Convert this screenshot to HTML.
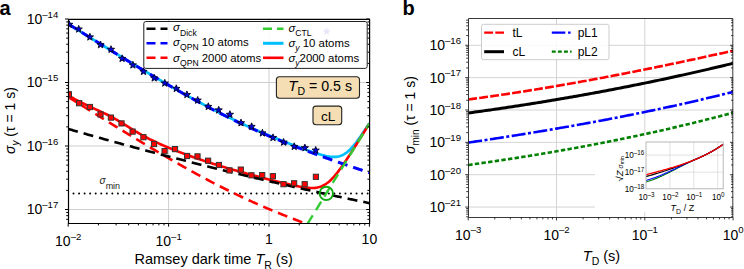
<!DOCTYPE html><html><head><meta charset="utf-8"><style>html,body{margin:0;padding:0;width:744px;height:269px;overflow:hidden;background:#fff}</style></head><body><svg width="744" height="269" viewBox="0 0 744 269" style="position:absolute;left:0;top:0">
<rect width="744" height="269" fill="#fff"/>
<text x="-0.5" y="14.5" style="font-family:'Liberation Sans', sans-serif;font-size:20px;font-weight:bold">a</text>
<line x1="168.60" y1="19.0" x2="168.60" y2="223.4" stroke="#cfcfcf" stroke-width="1"/>
<line x1="269.00" y1="19.0" x2="269.00" y2="223.4" stroke="#cfcfcf" stroke-width="1"/>
<line x1="68.2" y1="82.50" x2="369.40000000000003" y2="82.50" stroke="#cfcfcf" stroke-width="1"/>
<line x1="68.2" y1="146.00" x2="369.40000000000003" y2="146.00" stroke="#cfcfcf" stroke-width="1"/>
<line x1="68.2" y1="209.50" x2="369.40000000000003" y2="209.50" stroke="#cfcfcf" stroke-width="1"/>
<defs><clipPath id="ca"><rect x="68.2" y="19.0" width="301.20000000000005" height="204.4"/></clipPath></defs>
<g clip-path="url(#ca)">
<line x1="73.5" y1="193.5" x2="369.40000000000003" y2="193.5" stroke="#000" stroke-width="2" stroke-dasharray="0,5.55" stroke-linecap="round"/>
<path d="M68.20,23.89 L69.20,24.52 L70.21,25.14 L71.21,25.77 L72.22,26.40 L73.22,27.03 L74.22,27.66 L75.23,28.28 L76.23,28.91 L77.24,29.54 L78.24,30.17 L79.24,30.79 L80.25,31.42 L81.25,32.05 L82.26,32.67 L83.26,33.30 L84.26,33.92 L85.27,34.55 L86.27,35.18 L87.28,35.80 L88.28,36.43 L89.28,37.05 L90.29,37.68 L91.29,38.30 L92.30,38.92 L93.30,39.55 L94.30,40.17 L95.31,40.80 L96.31,41.42 L97.32,42.04 L98.32,42.66 L99.32,43.29 L100.33,43.91 L101.33,44.53 L102.34,45.15 L103.34,45.77 L104.34,46.39 L105.35,47.01 L106.35,47.63 L107.36,48.25 L108.36,48.87 L109.36,49.49 L110.37,50.11 L111.37,50.73 L112.38,51.35 L113.38,51.97 L114.38,52.58 L115.39,53.20 L116.39,53.82 L117.40,54.43 L118.40,55.05 L119.40,55.66 L120.41,56.28 L121.41,56.89 L122.42,57.51 L123.42,58.12 L124.42,58.73 L125.43,59.35 L126.43,59.96 L127.44,60.57 L128.44,61.18 L129.44,61.79 L130.45,62.40 L131.45,63.01 L132.46,63.62 L133.46,64.23 L134.46,64.84 L135.47,65.44 L136.47,66.05 L137.48,66.66 L138.48,67.26 L139.48,67.87 L140.49,68.47 L141.49,69.08 L142.50,69.68 L143.50,70.28 L144.50,70.88 L145.51,71.48 L146.51,72.08 L147.52,72.68 L148.52,73.28 L149.52,73.88 L150.53,74.48 L151.53,75.07 L152.54,75.67 L153.54,76.26 L154.54,76.86 L155.55,77.45 L156.55,78.04 L157.56,78.63 L158.56,79.22 L159.56,79.81 L160.57,80.40 L161.57,80.99 L162.58,81.58 L163.58,82.16 L164.58,82.75 L165.59,83.33 L166.59,83.91 L167.60,84.49 L168.60,85.08 L169.60,85.66 L170.61,86.23 L171.61,86.81 L172.62,87.39 L173.62,87.96 L174.62,88.54 L175.63,89.11 L176.63,89.68 L177.64,90.25 L178.64,90.82 L179.64,91.39 L180.65,91.96 L181.65,92.52 L182.66,93.09 L183.66,93.65 L184.66,94.21 L185.67,94.77 L186.67,95.33 L187.68,95.89 L188.68,96.45 L189.68,97.00 L190.69,97.56 L191.69,98.11 L192.70,98.66 L193.70,99.21 L194.70,99.76 L195.71,100.30 L196.71,100.85 L197.72,101.39 L198.72,101.94 L199.72,102.48 L200.73,103.01 L201.73,103.55 L202.74,104.09 L203.74,104.62 L204.74,105.15 L205.75,105.69 L206.75,106.21 L207.76,106.74 L208.76,107.27 L209.76,107.79 L210.77,108.32 L211.77,108.84 L212.78,109.36 L213.78,109.87 L214.78,110.39 L215.79,110.90 L216.79,111.41 L217.80,111.92 L218.80,112.43 L219.80,112.94 L220.81,113.44 L221.81,113.95 L222.82,114.45 L223.82,114.95 L224.82,115.45 L225.83,115.94 L226.83,116.44 L227.84,116.93 L228.84,117.42 L229.84,117.91 L230.85,118.39 L231.85,118.88 L232.86,119.36 L233.86,119.84 L234.86,120.32 L235.87,120.80 L236.87,121.27 L237.88,121.75 L238.88,122.22 L239.88,122.69 L240.89,123.16 L241.89,123.62 L242.90,124.09 L243.90,124.55 L244.90,125.01 L245.91,125.47 L246.91,125.92 L247.92,126.38 L248.92,126.83 L249.92,127.28 L250.93,127.73 L251.93,128.18 L252.94,128.62 L253.94,129.07 L254.94,129.51 L255.95,129.95 L256.95,130.39 L257.96,130.82 L258.96,131.26 L259.96,131.69 L260.97,132.12 L261.97,132.55 L262.98,132.98 L263.98,133.40 L264.98,133.83 L265.99,134.25 L266.99,134.67 L268.00,135.09 L269.00,135.51 L270.00,135.92 L271.01,136.34 L272.01,136.75 L273.02,137.16 L274.02,137.57 L275.02,137.98 L276.03,138.38 L277.03,138.79 L278.04,139.19 L279.04,139.59 L280.04,139.99 L281.05,140.39 L282.05,140.78 L283.06,141.18 L284.06,141.57 L285.06,141.96 L286.07,142.35 L287.07,142.74 L288.08,143.13 L289.08,143.52 L290.08,143.90 L291.09,144.28 L292.09,144.67 L293.10,145.05 L294.10,145.42 L295.10,145.80 L296.11,146.18 L297.11,146.55 L298.12,146.92 L299.12,147.29 L300.12,147.66 L301.13,148.03 L302.13,148.40 L303.14,148.76 L304.14,149.12 L305.14,149.48 L306.15,149.84 L307.15,150.20 L308.16,150.55 L309.16,150.90 L310.16,151.25 L311.17,151.59 L312.17,151.94 L313.18,152.27 L314.18,152.61 L315.18,152.94 L316.19,153.26 L317.19,153.58 L318.20,153.89 L319.20,154.20 L320.20,154.50 L321.21,154.78 L322.21,155.06 L323.22,155.33 L324.22,155.58 L325.22,155.82 L326.23,156.05 L327.23,156.25 L328.24,156.44 L329.24,156.60 L330.24,156.74 L331.25,156.85 L332.25,156.92 L333.26,156.97 L334.26,156.97 L335.26,156.93 L336.27,156.84 L337.27,156.71 L338.28,156.52 L339.28,156.27 L340.28,155.97 L341.29,155.60 L342.29,155.17 L343.30,154.66 L344.30,154.09 L345.30,153.45 L346.31,152.74 L347.31,151.96 L348.32,151.11 L349.32,150.20 L350.32,149.22 L351.33,148.19 L352.33,147.09 L353.34,145.95 L354.34,144.75 L355.34,143.51 L356.35,142.23 L357.35,140.90 L358.36,139.55 L359.36,138.16 L360.36,136.75 L361.37,135.30 L362.37,133.84 L363.38,132.36 L364.38,130.86 L365.38,129.34 L366.39,127.81 L367.39,126.27 L368.40,124.72 L369.40,123.16" fill="none" stroke="#00bfff" stroke-width="2.7"/>
<path d="M68.20,95.46 L69.20,96.03 L70.21,96.59 L71.21,97.15 L72.22,97.71 L73.22,98.26 L74.22,98.81 L75.23,99.35 L76.23,99.89 L77.24,100.42 L78.24,100.95 L79.24,101.47 L80.25,101.99 L81.25,102.50 L82.26,103.00 L83.26,103.50 L84.26,103.99 L85.27,104.48 L86.27,104.96 L87.28,105.44 L88.28,105.91 L89.28,106.38 L90.29,106.85 L91.29,107.31 L92.30,107.77 L93.30,108.22 L94.30,108.68 L95.31,109.13 L96.31,109.58 L97.32,110.04 L98.32,110.49 L99.32,110.95 L100.33,111.41 L101.33,111.88 L102.34,112.34 L103.34,112.82 L104.34,113.30 L105.35,113.78 L106.35,114.27 L107.36,114.77 L108.36,115.28 L109.36,115.80 L110.37,116.32 L111.37,116.85 L112.38,117.39 L113.38,117.94 L114.38,118.50 L115.39,119.07 L116.39,119.64 L117.40,120.22 L118.40,120.81 L119.40,121.41 L120.41,122.01 L121.41,122.62 L122.42,123.23 L123.42,123.84 L124.42,124.46 L125.43,125.08 L126.43,125.71 L127.44,126.33 L128.44,126.95 L129.44,127.58 L130.45,128.20 L131.45,128.82 L132.46,129.43 L133.46,130.05 L134.46,130.66 L135.47,131.26 L136.47,131.86 L137.48,132.45 L138.48,133.04 L139.48,133.62 L140.49,134.19 L141.49,134.76 L142.50,135.32 L143.50,135.87 L144.50,136.42 L145.51,136.96 L146.51,137.49 L147.52,138.01 L148.52,138.53 L149.52,139.04 L150.53,139.55 L151.53,140.04 L152.54,140.54 L153.54,141.02 L154.54,141.50 L155.55,141.98 L156.55,142.44 L157.56,142.91 L158.56,143.37 L159.56,143.82 L160.57,144.27 L161.57,144.71 L162.58,145.15 L163.58,145.59 L164.58,146.02 L165.59,146.45 L166.59,146.88 L167.60,147.30 L168.60,147.72 L169.60,148.13 L170.61,148.54 L171.61,148.95 L172.62,149.36 L173.62,149.76 L174.62,150.16 L175.63,150.56 L176.63,150.95 L177.64,151.35 L178.64,151.73 L179.64,152.12 L180.65,152.51 L181.65,152.89 L182.66,153.27 L183.66,153.64 L184.66,154.02 L185.67,154.39 L186.67,154.76 L187.68,155.13 L188.68,155.50 L189.68,155.86 L190.69,156.22 L191.69,156.58 L192.70,156.94 L193.70,157.29 L194.70,157.64 L195.71,157.99 L196.71,158.34 L197.72,158.69 L198.72,159.03 L199.72,159.38 L200.73,159.72 L201.73,160.05 L202.74,160.39 L203.74,160.73 L204.74,161.06 L205.75,161.39 L206.75,161.72 L207.76,162.05 L208.76,162.37 L209.76,162.70 L210.77,163.02 L211.77,163.34 L212.78,163.66 L213.78,163.98 L214.78,164.29 L215.79,164.61 L216.79,164.92 L217.80,165.23 L218.80,165.54 L219.80,165.85 L220.81,166.15 L221.81,166.46 L222.82,166.76 L223.82,167.06 L224.82,167.36 L225.83,167.66 L226.83,167.96 L227.84,168.26 L228.84,168.55 L229.84,168.84 L230.85,169.14 L231.85,169.43 L232.86,169.72 L233.86,170.01 L234.86,170.29 L235.87,170.58 L236.87,170.87 L237.88,171.15 L238.88,171.43 L239.88,171.71 L240.89,171.99 L241.89,172.27 L242.90,172.55 L243.90,172.83 L244.90,173.11 L245.91,173.38 L246.91,173.66 L247.92,173.93 L248.92,174.20 L249.92,174.47 L250.93,174.74 L251.93,175.01 L252.94,175.28 L253.94,175.55 L254.94,175.82 L255.95,176.08 L256.95,176.35 L257.96,176.61 L258.96,176.88 L259.96,177.14 L260.97,177.40 L261.97,177.66 L262.98,177.92 L263.98,178.18 L264.98,178.44 L265.99,178.70 L266.99,178.95 L268.00,179.21 L269.00,179.46 L270.00,179.72 L271.01,179.97 L272.01,180.22 L273.02,180.48 L274.02,180.73 L275.02,180.98 L276.03,181.23 L277.03,181.47 L278.04,181.72 L279.04,181.97 L280.04,182.21 L281.05,182.46 L282.05,182.70 L283.06,182.94 L284.06,183.18 L285.06,183.42 L286.07,183.66 L287.07,183.89 L288.08,184.13 L289.08,184.36 L290.08,184.59 L291.09,184.82 L292.09,185.04 L293.10,185.26 L294.10,185.48 L295.10,185.70 L296.11,185.91 L297.11,186.11 L298.12,186.31 L299.12,186.51 L300.12,186.70 L301.13,186.88 L302.13,187.05 L303.14,187.21 L304.14,187.36 L305.14,187.50 L306.15,187.63 L307.15,187.74 L308.16,187.84 L309.16,187.91 L310.16,187.97 L311.17,188.00 L312.17,188.01 L313.18,187.99 L314.18,187.93 L315.18,187.84 L316.19,187.72 L317.19,187.55 L318.20,187.34 L319.20,187.08 L320.20,186.78 L321.21,186.42 L322.21,186.00 L323.22,185.53 L324.22,184.99 L325.22,184.40 L326.23,183.74 L327.23,183.03 L328.24,182.24 L329.24,181.40 L330.24,180.50 L331.25,179.54 L332.25,178.52 L333.26,177.45 L334.26,176.33 L335.26,175.16 L336.27,173.95 L337.27,172.70 L338.28,171.40 L339.28,170.07 L340.28,168.71 L341.29,167.33 L342.29,165.91 L343.30,164.47 L344.30,163.01 L345.30,161.53 L346.31,160.04 L347.31,158.52 L348.32,157.00 L349.32,155.46 L350.32,153.91 L351.33,152.36 L352.33,150.79 L353.34,149.22 L354.34,147.64 L355.34,146.05 L356.35,144.46 L357.35,142.87 L358.36,141.27 L359.36,139.67 L360.36,138.07 L361.37,136.46 L362.37,134.85 L363.38,133.24 L364.38,131.62 L365.38,130.01 L366.39,128.39 L367.39,126.78 L368.40,125.16 L369.40,123.54" fill="none" stroke="#ff0000" stroke-width="2.6"/>
<path d="M68.20,23.89 L69.20,24.52 L70.21,25.15 L71.21,25.78 L72.22,26.41 L73.22,27.04 L74.22,27.66 L75.23,28.29 L76.23,28.92 L77.24,29.55 L78.24,30.17 L79.24,30.80 L80.25,31.43 L81.25,32.06 L82.26,32.68 L83.26,33.31 L84.26,33.93 L85.27,34.56 L86.27,35.19 L87.28,35.81 L88.28,36.44 L89.28,37.06 L90.29,37.69 L91.29,38.31 L92.30,38.94 L93.30,39.56 L94.30,40.18 L95.31,40.81 L96.31,41.43 L97.32,42.06 L98.32,42.68 L99.32,43.30 L100.33,43.92 L101.33,44.55 L102.34,45.17 L103.34,45.79 L104.34,46.41 L105.35,47.03 L106.35,47.65 L107.36,48.27 L108.36,48.89 L109.36,49.51 L110.37,50.13 L111.37,50.75 L112.38,51.37 L113.38,51.99 L114.38,52.60 L115.39,53.22 L116.39,53.84 L117.40,54.46 L118.40,55.07 L119.40,55.69 L120.41,56.30 L121.41,56.92 L122.42,57.53 L123.42,58.15 L124.42,58.76 L125.43,59.37 L126.43,59.99 L127.44,60.60 L128.44,61.21 L129.44,61.82 L130.45,62.43 L131.45,63.04 L132.46,63.65 L133.46,64.26 L134.46,64.87 L135.47,65.48 L136.47,66.09 L137.48,66.69 L138.48,67.30 L139.48,67.91 L140.49,68.51 L141.49,69.12 L142.50,69.72 L143.50,70.32 L144.50,70.93 L145.51,71.53 L146.51,72.13 L147.52,72.73 L148.52,73.33 L149.52,73.93 L150.53,74.53 L151.53,75.12 L152.54,75.72 L153.54,76.32 L154.54,76.91 L155.55,77.51 L156.55,78.10 L157.56,78.69 L158.56,79.28 L159.56,79.88 L160.57,80.47 L161.57,81.06 L162.58,81.64 L163.58,82.23 L164.58,82.82 L165.59,83.40 L166.59,83.99 L167.60,84.57 L168.60,85.15 L169.60,85.74 L170.61,86.32 L171.61,86.90 L172.62,87.47 L173.62,88.05 L174.62,88.63 L175.63,89.20 L176.63,89.78 L177.64,90.35 L178.64,90.92 L179.64,91.49 L180.65,92.06 L181.65,92.63 L182.66,93.20 L183.66,93.76 L184.66,94.33 L185.67,94.89 L186.67,95.45 L187.68,96.01 L188.68,96.57 L189.68,97.13 L190.69,97.69 L191.69,98.24 L192.70,98.79 L193.70,99.35 L194.70,99.90 L195.71,100.45 L196.71,101.00 L197.72,101.54 L198.72,102.09 L199.72,102.63 L200.73,103.17 L201.73,103.71 L202.74,104.25 L203.74,104.79 L204.74,105.33 L205.75,105.86 L206.75,106.39 L207.76,106.93 L208.76,107.46 L209.76,107.98 L210.77,108.51 L211.77,109.03 L212.78,109.56 L213.78,110.08 L214.78,110.60 L215.79,111.12 L216.79,111.63 L217.80,112.15 L218.80,112.66 L219.80,113.17 L220.81,113.68 L221.81,114.19 L222.82,114.69 L223.82,115.20 L224.82,115.70 L225.83,116.20 L226.83,116.70 L227.84,117.20 L228.84,117.69 L229.84,118.19 L230.85,118.68 L231.85,119.17 L232.86,119.65 L233.86,120.14 L234.86,120.62 L235.87,121.11 L236.87,121.59 L237.88,122.07 L238.88,122.54 L239.88,123.02 L240.89,123.49 L241.89,123.96 L242.90,124.43 L243.90,124.90 L244.90,125.37 L245.91,125.83 L246.91,126.29 L247.92,126.75 L248.92,127.21 L249.92,127.67 L250.93,128.13 L251.93,128.58 L252.94,129.03 L253.94,129.48 L254.94,129.93 L255.95,130.37 L256.95,130.82 L257.96,131.26 L258.96,131.70 L259.96,132.14 L260.97,132.58 L261.97,133.02 L262.98,133.45 L263.98,133.88 L264.98,134.31 L265.99,134.74 L266.99,135.17 L268.00,135.60 L269.00,136.02 L270.00,136.44 L271.01,136.86 L272.01,137.28 L273.02,137.70 L274.02,138.12 L275.02,138.53 L276.03,138.94 L277.03,139.36 L278.04,139.77 L279.04,140.17 L280.04,140.58 L281.05,140.99 L282.05,141.39 L283.06,141.79 L284.06,142.19 L285.06,142.59 L286.07,142.99 L287.07,143.39 L288.08,143.78 L289.08,144.18 L290.08,144.57 L291.09,144.96 L292.09,145.35 L293.10,145.74 L294.10,146.13 L295.10,146.52 L296.11,146.90 L297.11,147.29 L298.12,147.67 L299.12,148.05 L300.12,148.43 L301.13,148.81 L302.13,149.19 L303.14,149.57 L304.14,149.94 L305.14,150.32 L306.15,150.69 L307.15,151.06 L308.16,151.44 L309.16,151.81 L310.16,152.18 L311.17,152.55 L312.17,152.91 L313.18,153.28 L314.18,153.65 L315.18,154.01 L316.19,154.37 L317.19,154.74 L318.20,155.10 L319.20,155.46 L320.20,155.82 L321.21,156.18 L322.21,156.54 L323.22,156.90 L324.22,157.25 L325.22,157.61 L326.23,157.97 L327.23,158.32 L328.24,158.68 L329.24,159.03 L330.24,159.38 L331.25,159.73 L332.25,160.08 L333.26,160.43 L334.26,160.78 L335.26,161.13 L336.27,161.48 L337.27,161.83 L338.28,162.18 L339.28,162.52 L340.28,162.87 L341.29,163.22 L342.29,163.56 L343.30,163.90 L344.30,164.25 L345.30,164.59 L346.31,164.93 L347.31,165.28 L348.32,165.62 L349.32,165.96 L350.32,166.30 L351.33,166.64 L352.33,166.98 L353.34,167.32 L354.34,167.66 L355.34,167.99 L356.35,168.33 L357.35,168.67 L358.36,169.01 L359.36,169.34 L360.36,169.68 L361.37,170.02 L362.37,170.35 L363.38,170.69 L364.38,171.02 L365.38,171.35 L366.39,171.69 L367.39,172.02 L368.40,172.35 L369.40,172.69" fill="none" stroke="#0000ff" stroke-width="3" stroke-dasharray="10,6"/>
<path d="M68.20,96.95 L69.20,97.58 L70.21,98.21 L71.21,98.84 L72.22,99.47 L73.22,100.09 L74.22,100.72 L75.23,101.35 L76.23,101.98 L77.24,102.61 L78.24,103.23 L79.24,103.86 L80.25,104.49 L81.25,105.11 L82.26,105.74 L83.26,106.37 L84.26,106.99 L85.27,107.62 L86.27,108.24 L87.28,108.87 L88.28,109.50 L89.28,110.12 L90.29,110.75 L91.29,111.37 L92.30,111.99 L93.30,112.62 L94.30,113.24 L95.31,113.87 L96.31,114.49 L97.32,115.11 L98.32,115.74 L99.32,116.36 L100.33,116.98 L101.33,117.60 L102.34,118.23 L103.34,118.85 L104.34,119.47 L105.35,120.09 L106.35,120.71 L107.36,121.33 L108.36,121.95 L109.36,122.57 L110.37,123.19 L111.37,123.81 L112.38,124.43 L113.38,125.04 L114.38,125.66 L115.39,126.28 L116.39,126.90 L117.40,127.51 L118.40,128.13 L119.40,128.75 L120.41,129.36 L121.41,129.98 L122.42,130.59 L123.42,131.21 L124.42,131.82 L125.43,132.43 L126.43,133.04 L127.44,133.66 L128.44,134.27 L129.44,134.88 L130.45,135.49 L131.45,136.10 L132.46,136.71 L133.46,137.32 L134.46,137.93 L135.47,138.54 L136.47,139.14 L137.48,139.75 L138.48,140.36 L139.48,140.96 L140.49,141.57 L141.49,142.17 L142.50,142.78 L143.50,143.38 L144.50,143.98 L145.51,144.59 L146.51,145.19 L147.52,145.79 L148.52,146.39 L149.52,146.99 L150.53,147.58 L151.53,148.18 L152.54,148.78 L153.54,149.37 L154.54,149.97 L155.55,150.56 L156.55,151.16 L157.56,151.75 L158.56,152.34 L159.56,152.93 L160.57,153.52 L161.57,154.11 L162.58,154.70 L163.58,155.29 L164.58,155.88 L165.59,156.46 L166.59,157.05 L167.60,157.63 L168.60,158.21 L169.60,158.79 L170.61,159.37 L171.61,159.95 L172.62,160.53 L173.62,161.11 L174.62,161.69 L175.63,162.26 L176.63,162.83 L177.64,163.41 L178.64,163.98 L179.64,164.55 L180.65,165.12 L181.65,165.69 L182.66,166.25 L183.66,166.82 L184.66,167.38 L185.67,167.95 L186.67,168.51 L187.68,169.07 L188.68,169.63 L189.68,170.19 L190.69,170.74 L191.69,171.30 L192.70,171.85 L193.70,172.40 L194.70,172.96 L195.71,173.51 L196.71,174.05 L197.72,174.60 L198.72,175.15 L199.72,175.69 L200.73,176.23 L201.73,176.77 L202.74,177.31 L203.74,177.85 L204.74,178.38 L205.75,178.92 L206.75,179.45 L207.76,179.98 L208.76,180.51 L209.76,181.04 L210.77,181.57 L211.77,182.09 L212.78,182.61 L213.78,183.14 L214.78,183.66 L215.79,184.17 L216.79,184.69 L217.80,185.20 L218.80,185.72 L219.80,186.23 L220.81,186.74 L221.81,187.25 L222.82,187.75 L223.82,188.26 L224.82,188.76 L225.83,189.26 L226.83,189.76 L227.84,190.25 L228.84,190.75 L229.84,191.24 L230.85,191.73 L231.85,192.22 L232.86,192.71 L233.86,193.20 L234.86,193.68 L235.87,194.17 L236.87,194.65 L237.88,195.12 L238.88,195.60 L239.88,196.08 L240.89,196.55 L241.89,197.02 L242.90,197.49 L243.90,197.96 L244.90,198.42 L245.91,198.89 L246.91,199.35 L247.92,199.81 L248.92,200.27 L249.92,200.73 L250.93,201.18 L251.93,201.64 L252.94,202.09 L253.94,202.54 L254.94,202.99 L255.95,203.43 L256.95,203.88 L257.96,204.32 L258.96,204.76 L259.96,205.20 L260.97,205.64 L261.97,206.07 L262.98,206.51 L263.98,206.94 L264.98,207.37 L265.99,207.80 L266.99,208.23 L268.00,208.65 L269.00,209.08 L270.00,209.50 L271.01,209.92 L272.01,210.34 L273.02,210.76 L274.02,211.17 L275.02,211.59 L276.03,212.00 L277.03,212.41 L278.04,212.82 L279.04,213.23 L280.04,213.64 L281.05,214.04 L282.05,214.45 L283.06,214.85 L284.06,215.25 L285.06,215.65 L286.07,216.05 L287.07,216.45 L288.08,216.84 L289.08,217.24 L290.08,217.63 L291.09,218.02 L292.09,218.41 L293.10,218.80 L294.10,219.19 L295.10,219.58 L296.11,219.96 L297.11,220.34 L298.12,220.73 L299.12,221.11 L300.12,221.49 L301.13,221.87 L302.13,222.25 L303.14,222.62 L304.14,223.00 L305.14,223.38 L306.15,223.75 L307.15,224.12 L308.16,224.49 L309.16,224.86 L310.16,225.23 L311.17,225.60 L312.17,225.97 L313.18,226.34 L314.18,226.70 L315.18,227.07 L316.19,227.43 L317.19,227.80 L318.20,228.16 L319.20,228.52 L320.20,228.88 L321.21,229.24 L322.21,229.60 L323.22,229.96 L324.22,230.31 L325.22,230.67 L326.23,231.02 L327.23,231.38 L328.24,231.73 L329.24,232.09 L330.24,232.44 L331.25,232.79 L332.25,233.14 L333.26,233.49 L334.26,233.84 L335.26,234.19 L336.27,234.54 L337.27,234.89 L338.28,235.23 L339.28,235.58 L340.28,235.93 L341.29,236.27 L342.29,236.62 L343.30,236.96 L344.30,237.31 L345.30,237.65 L346.31,237.99 L347.31,238.33 L348.32,238.68 L349.32,239.02 L350.32,239.36 L351.33,239.70 L352.33,240.04 L353.34,240.38 L354.34,240.71 L355.34,241.05 L356.35,241.39 L357.35,241.73 L358.36,242.06 L359.36,242.40 L360.36,242.74 L361.37,243.07 L362.37,243.41 L363.38,243.74 L364.38,244.08 L365.38,244.41 L366.39,244.75 L367.39,245.08 L368.40,245.41 L369.40,245.75" fill="none" stroke="#ff0000" stroke-width="2.6" stroke-dasharray="10,6"/>
<path d="M68.20,128.95 L69.20,129.24 L70.21,129.52 L71.21,129.81 L72.22,130.10 L73.22,130.39 L74.22,130.68 L75.23,130.96 L76.23,131.25 L77.24,131.54 L78.24,131.82 L79.24,132.11 L80.25,132.39 L81.25,132.68 L82.26,132.97 L83.26,133.25 L84.26,133.54 L85.27,133.82 L86.27,134.10 L87.28,134.39 L88.28,134.67 L89.28,134.95 L90.29,135.24 L91.29,135.52 L92.30,135.80 L93.30,136.09 L94.30,136.37 L95.31,136.65 L96.31,136.93 L97.32,137.21 L98.32,137.49 L99.32,137.77 L100.33,138.05 L101.33,138.33 L102.34,138.61 L103.34,138.89 L104.34,139.17 L105.35,139.45 L106.35,139.73 L107.36,140.01 L108.36,140.28 L109.36,140.56 L110.37,140.84 L111.37,141.12 L112.38,141.39 L113.38,141.67 L114.38,141.95 L115.39,142.22 L116.39,142.50 L117.40,142.77 L118.40,143.05 L119.40,143.32 L120.41,143.60 L121.41,143.87 L122.42,144.15 L123.42,144.42 L124.42,144.69 L125.43,144.97 L126.43,145.24 L127.44,145.51 L128.44,145.79 L129.44,146.06 L130.45,146.33 L131.45,146.60 L132.46,146.87 L133.46,147.14 L134.46,147.41 L135.47,147.69 L136.47,147.96 L137.48,148.23 L138.48,148.50 L139.48,148.76 L140.49,149.03 L141.49,149.30 L142.50,149.57 L143.50,149.84 L144.50,150.11 L145.51,150.38 L146.51,150.64 L147.52,150.91 L148.52,151.18 L149.52,151.44 L150.53,151.71 L151.53,151.98 L152.54,152.24 L153.54,152.51 L154.54,152.77 L155.55,153.04 L156.55,153.30 L157.56,153.57 L158.56,153.83 L159.56,154.09 L160.57,154.36 L161.57,154.62 L162.58,154.88 L163.58,155.15 L164.58,155.41 L165.59,155.67 L166.59,155.93 L167.60,156.19 L168.60,156.46 L169.60,156.72 L170.61,156.98 L171.61,157.24 L172.62,157.50 L173.62,157.76 L174.62,158.02 L175.63,158.28 L176.63,158.54 L177.64,158.80 L178.64,159.05 L179.64,159.31 L180.65,159.57 L181.65,159.83 L182.66,160.09 L183.66,160.34 L184.66,160.60 L185.67,160.86 L186.67,161.11 L187.68,161.37 L188.68,161.62 L189.68,161.88 L190.69,162.13 L191.69,162.39 L192.70,162.64 L193.70,162.90 L194.70,163.15 L195.71,163.41 L196.71,163.66 L197.72,163.91 L198.72,164.17 L199.72,164.42 L200.73,164.67 L201.73,164.92 L202.74,165.18 L203.74,165.43 L204.74,165.68 L205.75,165.93 L206.75,166.18 L207.76,166.43 L208.76,166.68 L209.76,166.93 L210.77,167.18 L211.77,167.43 L212.78,167.68 L213.78,167.93 L214.78,168.18 L215.79,168.42 L216.79,168.67 L217.80,168.92 L218.80,169.17 L219.80,169.41 L220.81,169.66 L221.81,169.91 L222.82,170.15 L223.82,170.40 L224.82,170.65 L225.83,170.89 L226.83,171.14 L227.84,171.38 L228.84,171.63 L229.84,171.87 L230.85,172.11 L231.85,172.36 L232.86,172.60 L233.86,172.84 L234.86,173.09 L235.87,173.33 L236.87,173.57 L237.88,173.81 L238.88,174.06 L239.88,174.30 L240.89,174.54 L241.89,174.78 L242.90,175.02 L243.90,175.26 L244.90,175.50 L245.91,175.74 L246.91,175.98 L247.92,176.22 L248.92,176.46 L249.92,176.70 L250.93,176.94 L251.93,177.18 L252.94,177.41 L253.94,177.65 L254.94,177.89 L255.95,178.13 L256.95,178.36 L257.96,178.60 L258.96,178.84 L259.96,179.07 L260.97,179.31 L261.97,179.54 L262.98,179.78 L263.98,180.01 L264.98,180.25 L265.99,180.48 L266.99,180.72 L268.00,180.95 L269.00,181.18 L270.00,181.42 L271.01,181.65 L272.01,181.88 L273.02,182.11 L274.02,182.35 L275.02,182.58 L276.03,182.81 L277.03,183.04 L278.04,183.27 L279.04,183.50 L280.04,183.73 L281.05,183.96 L282.05,184.19 L283.06,184.42 L284.06,184.65 L285.06,184.88 L286.07,185.11 L287.07,185.34 L288.08,185.57 L289.08,185.79 L290.08,186.02 L291.09,186.25 L292.09,186.48 L293.10,186.70 L294.10,186.93 L295.10,187.16 L296.11,187.38 L297.11,187.61 L298.12,187.83 L299.12,188.06 L300.12,188.28 L301.13,188.51 L302.13,188.73 L303.14,188.96 L304.14,189.18 L305.14,189.40 L306.15,189.63 L307.15,189.85 L308.16,190.07 L309.16,190.29 L310.16,190.52 L311.17,190.74 L312.17,190.96 L313.18,191.18 L314.18,191.40 L315.18,191.62 L316.19,191.84 L317.19,192.06 L318.20,192.28 L319.20,192.50 L320.20,192.72 L321.21,192.94 L322.21,193.16 L323.22,193.38 L324.22,193.60 L325.22,193.81 L326.23,194.03 L327.23,194.25 L328.24,194.47 L329.24,194.68 L330.24,194.90 L331.25,195.12 L332.25,195.33 L333.26,195.55 L334.26,195.76 L335.26,195.98 L336.27,196.19 L337.27,196.41 L338.28,196.62 L339.28,196.84 L340.28,197.05 L341.29,197.26 L342.29,197.48 L343.30,197.69 L344.30,197.90 L345.30,198.11 L346.31,198.33 L347.31,198.54 L348.32,198.75 L349.32,198.96 L350.32,199.17 L351.33,199.38 L352.33,199.59 L353.34,199.80 L354.34,200.01 L355.34,200.22 L356.35,200.43 L357.35,200.64 L358.36,200.85 L359.36,201.06 L360.36,201.27 L361.37,201.47 L362.37,201.68 L363.38,201.89 L364.38,202.10 L365.38,202.30 L366.39,202.51 L367.39,202.72 L368.40,202.92 L369.40,203.13" fill="none" stroke="#000" stroke-width="2.6" stroke-dasharray="10,6"/>
<path d="M299.12,237.38 L299.35,237.00 L299.59,236.62 L299.82,236.24 L300.06,235.86 L300.29,235.48 L300.53,235.10 L300.76,234.72 L300.99,234.34 L301.23,233.96 L301.46,233.58 L301.70,233.20 L301.93,232.82 L302.17,232.45 L302.40,232.07 L302.63,231.69 L302.87,231.31 L303.10,230.93 L303.34,230.55 L303.57,230.17 L303.81,229.79 L304.04,229.41 L304.27,229.03 L304.51,228.65 L304.74,228.27 L304.98,227.89 L305.21,227.51 L305.45,227.13 L305.68,226.76 L305.91,226.38 L306.15,226.00 L306.38,225.62 L306.62,225.24 L306.85,224.86 L307.09,224.48 L307.32,224.10 L307.55,223.72 L307.79,223.34 L308.02,222.96 L308.26,222.58 L308.49,222.20 L308.72,221.82 L308.96,221.45 L309.19,221.07 L309.43,220.69 L309.66,220.31 L309.90,219.93 L310.13,219.55 L310.36,219.17 L310.60,218.79 L310.83,218.41 L311.07,218.03 L311.30,217.65 L311.54,217.27 L311.77,216.89 L312.00,216.51 L312.24,216.13 L312.47,215.76 L312.71,215.38 L312.94,215.00 L313.18,214.62 L313.41,214.24 L313.64,213.86 L313.88,213.48 L314.11,213.10 L314.35,212.72 L314.58,212.34 L314.82,211.96 L315.05,211.58 L315.28,211.20 L315.52,210.82 L315.75,210.45 L315.99,210.07 L316.22,209.69 L316.46,209.31 L316.69,208.93 L316.92,208.55 L317.16,208.17 L317.39,207.79 L317.63,207.41 L317.86,207.03 L318.10,206.65 L318.33,206.27 L318.56,205.89 L318.80,205.51 L319.03,205.13 L319.27,204.76 L319.50,204.38 L319.74,204.00 L319.97,203.62 L320.20,203.24 L320.44,202.86 L320.67,202.48 L320.91,202.10 L321.14,201.72 L321.38,201.34 L321.61,200.96 L321.84,200.58 L322.08,200.20 L322.31,199.82 L322.55,199.45 L322.78,199.07 L323.02,198.69 L323.25,198.31 L323.48,197.93 L323.72,197.55 L323.95,197.17 L324.19,196.79 L324.42,196.41 L324.66,196.03 L324.89,195.65 L325.12,195.27 L325.36,194.89 L325.59,194.51 L325.83,194.14 L326.06,193.76 L326.29,193.38 L326.53,193.00 L326.76,192.62 L327.00,192.24 L327.23,191.86 L327.47,191.48 L327.70,191.10 L327.93,190.72 L328.17,190.34 L328.40,189.96 L328.64,189.58 L328.87,189.20 L329.11,188.82 L329.34,188.45 L329.57,188.07 L329.81,187.69 L330.04,187.31 L330.28,186.93 L330.51,186.55 L330.75,186.17 L330.98,185.79 L331.21,185.41 L331.45,185.03 L331.68,184.65 L331.92,184.27 L332.15,183.89 L332.39,183.51 L332.62,183.14 L332.85,182.76 L333.09,182.38 L333.32,182.00 L333.56,181.62 L333.79,181.24 L334.03,180.86 L334.26,180.48 L334.49,180.10 L334.73,179.72 L334.96,179.34 L335.20,178.96 L335.43,178.58 L335.67,178.20 L335.90,177.82 L336.13,177.45 L336.37,177.07 L336.60,176.69 L336.84,176.31 L337.07,175.93 L337.31,175.55 L337.54,175.17 L337.77,174.79 L338.01,174.41 L338.24,174.03 L338.48,173.65 L338.71,173.27 L338.95,172.89 L339.18,172.51 L339.41,172.14 L339.65,171.76 L339.88,171.38 L340.12,171.00 L340.35,170.62 L340.59,170.24 L340.82,169.86 L341.05,169.48 L341.29,169.10 L341.52,168.72 L341.76,168.34 L341.99,167.96 L342.23,167.58 L342.46,167.20 L342.69,166.82 L342.93,166.45 L343.16,166.07 L343.40,165.69 L343.63,165.31 L343.86,164.93 L344.10,164.55 L344.33,164.17 L344.57,163.79 L344.80,163.41 L345.04,163.03 L345.27,162.65 L345.50,162.27 L345.74,161.89 L345.97,161.51 L346.21,161.14 L346.44,160.76 L346.68,160.38 L346.91,160.00 L347.14,159.62 L347.38,159.24 L347.61,158.86 L347.85,158.48 L348.08,158.10 L348.32,157.72 L348.55,157.34 L348.78,156.96 L349.02,156.58 L349.25,156.20 L349.49,155.83 L349.72,155.45 L349.96,155.07 L350.19,154.69 L350.42,154.31 L350.66,153.93 L350.89,153.55 L351.13,153.17 L351.36,152.79 L351.60,152.41 L351.83,152.03 L352.06,151.65 L352.30,151.27 L352.53,150.89 L352.77,150.51 L353.00,150.14 L353.24,149.76 L353.47,149.38 L353.70,149.00 L353.94,148.62 L354.17,148.24 L354.41,147.86 L354.64,147.48 L354.88,147.10 L355.11,146.72 L355.34,146.34 L355.58,145.96 L355.81,145.58 L356.05,145.20 L356.28,144.83 L356.52,144.45 L356.75,144.07 L356.98,143.69 L357.22,143.31 L357.45,142.93 L357.69,142.55 L357.92,142.17 L358.16,141.79 L358.39,141.41 L358.62,141.03 L358.86,140.65 L359.09,140.27 L359.33,139.89 L359.56,139.51 L359.80,139.14 L360.03,138.76 L360.26,138.38 L360.50,138.00 L360.73,137.62 L360.97,137.24 L361.20,136.86 L361.43,136.48 L361.67,136.10 L361.90,135.72 L362.14,135.34 L362.37,134.96 L362.61,134.58 L362.84,134.20 L363.07,133.83 L363.31,133.45 L363.54,133.07 L363.78,132.69 L364.01,132.31 L364.25,131.93 L364.48,131.55 L364.71,131.17 L364.95,130.79 L365.18,130.41 L365.42,130.03 L365.65,129.65 L365.89,129.27 L366.12,128.89 L366.35,128.51 L366.59,128.14 L366.82,127.76 L367.06,127.38 L367.29,127.00 L367.53,126.62 L367.76,126.24 L367.99,125.86 L368.23,125.48 L368.46,125.10 L368.70,124.72 L368.93,124.34 L369.17,123.96 L369.40,123.58" fill="none" stroke="#33cc33" stroke-width="2.4" stroke-dasharray="10,6"/>
<circle cx="326.3" cy="193.4" r="6.7" fill="none" stroke="#11aa11" stroke-width="2"/>
<rect x="66.30" y="91.70" width="5.2" height="5.2" fill="#ff0000" stroke="#333333" stroke-width="1"/>
<rect x="76.50" y="100.60" width="5.2" height="5.2" fill="#ff0000" stroke="#333333" stroke-width="1"/>
<rect x="87.30" y="104.40" width="5.2" height="5.2" fill="#ff0000" stroke="#333333" stroke-width="1"/>
<rect x="97.90" y="111.80" width="5.2" height="5.2" fill="#ff0000" stroke="#333333" stroke-width="1"/>
<rect x="108.30" y="115.00" width="5.2" height="5.2" fill="#ff0000" stroke="#333333" stroke-width="1"/>
<rect x="118.90" y="120.80" width="5.2" height="5.2" fill="#ff0000" stroke="#333333" stroke-width="1"/>
<rect x="130.00" y="129.00" width="5.2" height="5.2" fill="#ff0000" stroke="#333333" stroke-width="1"/>
<rect x="140.80" y="134.60" width="5.2" height="5.2" fill="#ff0000" stroke="#333333" stroke-width="1"/>
<rect x="151.40" y="141.40" width="5.2" height="5.2" fill="#ff0000" stroke="#333333" stroke-width="1"/>
<rect x="162.00" y="148.50" width="5.2" height="5.2" fill="#ff0000" stroke="#333333" stroke-width="1"/>
<rect x="172.40" y="146.50" width="5.2" height="5.2" fill="#ff0000" stroke="#333333" stroke-width="1"/>
<rect x="184.50" y="153.40" width="5.2" height="5.2" fill="#ff0000" stroke="#333333" stroke-width="1"/>
<rect x="194.90" y="153.80" width="5.2" height="5.2" fill="#ff0000" stroke="#333333" stroke-width="1"/>
<rect x="205.50" y="158.10" width="5.2" height="5.2" fill="#ff0000" stroke="#333333" stroke-width="1"/>
<rect x="216.30" y="162.40" width="5.2" height="5.2" fill="#ff0000" stroke="#333333" stroke-width="1"/>
<rect x="226.90" y="167.80" width="5.2" height="5.2" fill="#ff0000" stroke="#333333" stroke-width="1"/>
<rect x="238.20" y="167.00" width="5.2" height="5.2" fill="#ff0000" stroke="#333333" stroke-width="1"/>
<rect x="248.80" y="172.70" width="5.2" height="5.2" fill="#ff0000" stroke="#333333" stroke-width="1"/>
<rect x="259.60" y="172.50" width="5.2" height="5.2" fill="#ff0000" stroke="#333333" stroke-width="1"/>
<rect x="270.30" y="173.60" width="5.2" height="5.2" fill="#ff0000" stroke="#333333" stroke-width="1"/>
<rect x="280.90" y="181.60" width="5.2" height="5.2" fill="#ff0000" stroke="#333333" stroke-width="1"/>
<rect x="291.50" y="180.70" width="5.2" height="5.2" fill="#ff0000" stroke="#333333" stroke-width="1"/>
<rect x="302.10" y="181.60" width="5.2" height="5.2" fill="#ff0000" stroke="#333333" stroke-width="1"/>
<rect x="313.30" y="174.20" width="5.2" height="5.2" fill="#ff0000" stroke="#333333" stroke-width="1"/>
<polygon points="69.20,20.70 70.14,23.21 72.81,23.33 70.72,24.99 71.43,27.57 69.20,26.10 66.97,27.57 67.68,24.99 65.59,23.33 68.26,23.21" fill="#0000e0" stroke="#000022" stroke-width="0.9" stroke-linejoin="miter" opacity="1"/>
<polygon points="78.70,25.40 79.64,27.91 82.31,28.03 80.22,29.69 80.93,32.27 78.70,30.80 76.47,32.27 77.18,29.69 75.09,28.03 77.76,27.91" fill="#0000e0" stroke="#000022" stroke-width="0.9" stroke-linejoin="miter" opacity="1"/>
<polygon points="89.90,33.30 90.84,35.81 93.51,35.93 91.42,37.59 92.13,40.17 89.90,38.70 87.67,40.17 88.38,37.59 86.29,35.93 88.96,35.81" fill="#0000e0" stroke="#000022" stroke-width="0.9" stroke-linejoin="miter" opacity="1"/>
<polygon points="100.50,41.00 101.44,43.51 104.11,43.63 102.02,45.29 102.73,47.87 100.50,46.40 98.27,47.87 98.98,45.29 96.89,43.63 99.56,43.51" fill="#0000e0" stroke="#000022" stroke-width="0.9" stroke-linejoin="miter" opacity="1"/>
<polygon points="111.00,45.70 111.94,48.21 114.61,48.33 112.52,49.99 113.23,52.57 111.00,51.10 108.77,52.57 109.48,49.99 107.39,48.33 110.06,48.21" fill="#0000e0" stroke="#000022" stroke-width="0.9" stroke-linejoin="miter" opacity="1"/>
<polygon points="122.10,54.80 123.04,57.31 125.71,57.43 123.62,59.09 124.33,61.67 122.10,60.20 119.87,61.67 120.58,59.09 118.49,57.43 121.16,57.31" fill="#0000e0" stroke="#000022" stroke-width="0.9" stroke-linejoin="miter" opacity="1"/>
<polygon points="132.90,61.30 133.84,63.81 136.51,63.93 134.42,65.59 135.13,68.17 132.90,66.70 130.67,68.17 131.38,65.59 129.29,63.93 131.96,63.81" fill="#0000e0" stroke="#000022" stroke-width="0.9" stroke-linejoin="miter" opacity="1"/>
<polygon points="143.50,67.80 144.44,70.31 147.11,70.43 145.02,72.09 145.73,74.67 143.50,73.20 141.27,74.67 141.98,72.09 139.89,70.43 142.56,70.31" fill="#0000e0" stroke="#000022" stroke-width="0.9" stroke-linejoin="miter" opacity="1"/>
<polygon points="154.20,74.30 155.14,76.81 157.81,76.93 155.72,78.59 156.43,81.17 154.20,79.70 151.97,81.17 152.68,78.59 150.59,76.93 153.26,76.81" fill="#0000e0" stroke="#000022" stroke-width="0.9" stroke-linejoin="miter" opacity="1"/>
<polygon points="164.80,79.40 165.74,81.91 168.41,82.03 166.32,83.69 167.03,86.27 164.80,84.80 162.57,86.27 163.28,83.69 161.19,82.03 163.86,81.91" fill="#0000e0" stroke="#000022" stroke-width="0.9" stroke-linejoin="miter" opacity="1"/>
<polygon points="176.30,84.80 177.24,87.31 179.91,87.43 177.82,89.09 178.53,91.67 176.30,90.20 174.07,91.67 174.78,89.09 172.69,87.43 175.36,87.31" fill="#0000e0" stroke="#000022" stroke-width="0.9" stroke-linejoin="miter" opacity="1"/>
<polygon points="186.90,90.90 187.84,93.41 190.51,93.53 188.42,95.19 189.13,97.77 186.90,96.30 184.67,97.77 185.38,95.19 183.29,93.53 185.96,93.41" fill="#0000e0" stroke="#000022" stroke-width="0.9" stroke-linejoin="miter" opacity="1"/>
<polygon points="197.70,96.50 198.64,99.01 201.31,99.13 199.22,100.79 199.93,103.37 197.70,101.90 195.47,103.37 196.18,100.79 194.09,99.13 196.76,99.01" fill="#0000e0" stroke="#000022" stroke-width="0.9" stroke-linejoin="miter" opacity="1"/>
<polygon points="208.30,102.80 209.24,105.31 211.91,105.43 209.82,107.09 210.53,109.67 208.30,108.20 206.07,109.67 206.78,107.09 204.69,105.43 207.36,105.31" fill="#0000e0" stroke="#000022" stroke-width="0.9" stroke-linejoin="miter" opacity="1"/>
<polygon points="218.70,106.30 219.64,108.81 222.31,108.93 220.22,110.59 220.93,113.17 218.70,111.70 216.47,113.17 217.18,110.59 215.09,108.93 217.76,108.81" fill="#0000e0" stroke="#000022" stroke-width="0.9" stroke-linejoin="miter" opacity="1"/>
<polygon points="229.90,110.70 230.84,113.21 233.51,113.33 231.42,114.99 232.13,117.57 229.90,116.10 227.67,117.57 228.38,114.99 226.29,113.33 228.96,113.21" fill="#0000e0" stroke="#000022" stroke-width="0.9" stroke-linejoin="miter" opacity="1"/>
<polygon points="241.00,119.10 241.94,121.61 244.61,121.73 242.52,123.39 243.23,125.97 241.00,124.50 238.77,125.97 239.48,123.39 237.39,121.73 240.06,121.61" fill="#0000e0" stroke="#000022" stroke-width="0.9" stroke-linejoin="miter" opacity="1"/>
<polygon points="251.60,122.80 252.54,125.31 255.21,125.43 253.12,127.09 253.83,129.67 251.60,128.20 249.37,129.67 250.08,127.09 247.99,125.43 250.66,125.31" fill="#0000e0" stroke="#000022" stroke-width="0.9" stroke-linejoin="miter" opacity="1"/>
<polygon points="262.40,129.30 263.34,131.81 266.01,131.93 263.92,133.59 264.63,136.17 262.40,134.70 260.17,136.17 260.88,133.59 258.79,131.93 261.46,131.81" fill="#0000e0" stroke="#000022" stroke-width="0.9" stroke-linejoin="miter" opacity="1"/>
<polygon points="273.00,133.90 273.94,136.41 276.61,136.53 274.52,138.19 275.23,140.77 273.00,139.30 270.77,140.77 271.48,138.19 269.39,136.53 272.06,136.41" fill="#0000e0" stroke="#000022" stroke-width="0.9" stroke-linejoin="miter" opacity="1"/>
<polygon points="283.60,138.50 284.54,141.01 287.21,141.13 285.12,142.79 285.83,145.37 283.60,143.90 281.37,145.37 282.08,142.79 279.99,141.13 282.66,141.01" fill="#0000e0" stroke="#000022" stroke-width="0.9" stroke-linejoin="miter" opacity="1"/>
<polygon points="294.20,142.80 295.14,145.31 297.81,145.43 295.72,147.09 296.43,149.67 294.20,148.20 291.97,149.67 292.68,147.09 290.59,145.43 293.26,145.31" fill="#0000e0" stroke="#000022" stroke-width="0.9" stroke-linejoin="miter" opacity="1"/>
<polygon points="304.90,144.10 305.84,146.61 308.51,146.73 306.42,148.39 307.13,150.97 304.90,149.50 302.67,150.97 303.38,148.39 301.29,146.73 303.96,146.61" fill="#0000e0" stroke="#000022" stroke-width="0.9" stroke-linejoin="miter" opacity="1"/>
<polygon points="315.70,146.50 316.64,149.01 319.31,149.13 317.22,150.79 317.93,153.37 315.70,151.90 313.47,153.37 314.18,150.79 312.09,149.13 314.76,149.01" fill="#0000e0" stroke="#000022" stroke-width="0.9" stroke-linejoin="miter" opacity="1"/>
</g>
<path d="M68.5,19.4 H369.6 V223.5 H68.5 Z" fill="none" stroke="#000" stroke-width="1.2"/>
<path d="M68.2,219.34 h-2 M68.2,215.65 h-2 M68.2,212.41 h-2 M68.2,209.50 h-3.2 M68.2,190.38 h-2 M68.2,179.20 h-2 M68.2,171.27 h-2 M68.2,165.12 h-2 M68.2,160.09 h-2 M68.2,155.84 h-2 M68.2,152.15 h-2 M68.2,148.91 h-2 M68.2,146.00 h-3.2 M68.2,126.88 h-2 M68.2,115.70 h-2 M68.2,107.77 h-2 M68.2,101.62 h-2 M68.2,96.59 h-2 M68.2,92.34 h-2 M68.2,88.65 h-2 M68.2,85.41 h-2 M68.2,82.50 h-3.2 M68.2,63.38 h-2 M68.2,52.20 h-2 M68.2,44.27 h-2 M68.2,38.12 h-2 M68.2,33.09 h-2 M68.2,28.84 h-2 M68.2,25.15 h-2 M68.2,21.91 h-2 M68.2,19.00 h-3.2 M68.20,223.4 v3.2 M98.42,223.4 v2 M116.10,223.4 v2 M128.65,223.4 v2 M138.38,223.4 v2 M146.33,223.4 v2 M153.05,223.4 v2 M158.87,223.4 v2 M164.01,223.4 v2 M168.60,223.4 v3.2 M198.82,223.4 v2 M216.50,223.4 v2 M229.05,223.4 v2 M238.78,223.4 v2 M246.73,223.4 v2 M253.45,223.4 v2 M259.27,223.4 v2 M264.41,223.4 v2 M269.00,223.4 v3.2 M299.22,223.4 v2 M316.90,223.4 v2 M329.45,223.4 v2 M339.18,223.4 v2 M347.13,223.4 v2 M353.85,223.4 v2 M359.67,223.4 v2 M364.81,223.4 v2 M369.40,223.4 v3.2 M369.40000000000003,219.34 h-2 M369.40000000000003,215.65 h-2 M369.40000000000003,212.41 h-2 M369.40000000000003,209.50 h-3.2 M369.40000000000003,190.38 h-2 M369.40000000000003,179.20 h-2 M369.40000000000003,171.27 h-2 M369.40000000000003,165.12 h-2 M369.40000000000003,160.09 h-2 M369.40000000000003,155.84 h-2 M369.40000000000003,152.15 h-2 M369.40000000000003,148.91 h-2 M369.40000000000003,146.00 h-3.2 M369.40000000000003,126.88 h-2 M369.40000000000003,115.70 h-2 M369.40000000000003,107.77 h-2 M369.40000000000003,101.62 h-2 M369.40000000000003,96.59 h-2 M369.40000000000003,92.34 h-2 M369.40000000000003,88.65 h-2 M369.40000000000003,85.41 h-2 M369.40000000000003,82.50 h-3.2 M369.40000000000003,63.38 h-2 M369.40000000000003,52.20 h-2 M369.40000000000003,44.27 h-2 M369.40000000000003,38.12 h-2 M369.40000000000003,33.09 h-2 M369.40000000000003,28.84 h-2 M369.40000000000003,25.15 h-2 M369.40000000000003,21.91 h-2 M369.40000000000003,19.00 h-3.2" stroke="#000" stroke-width="1" fill="none"/>
<text x="58.3" y="23.7" text-anchor="end" style="font-family:'Liberation Sans', sans-serif;font-size:14px">10<tspan dy="-6.2" style="font-size:9.6px">–14</tspan></text>
<text x="58.3" y="87.2" text-anchor="end" style="font-family:'Liberation Sans', sans-serif;font-size:14px">10<tspan dy="-6.2" style="font-size:9.6px">–15</tspan></text>
<text x="58.3" y="150.7" text-anchor="end" style="font-family:'Liberation Sans', sans-serif;font-size:14px">10<tspan dy="-6.2" style="font-size:9.6px">–16</tspan></text>
<text x="58.3" y="214.2" text-anchor="end" style="font-family:'Liberation Sans', sans-serif;font-size:14px">10<tspan dy="-6.2" style="font-size:9.6px">–17</tspan></text>
<text x="68.2" y="246" text-anchor="middle" style="font-family:'Liberation Sans', sans-serif;font-size:14px">10<tspan dy="-6.2" style="font-size:9.6px">–2</tspan></text>
<text x="168.60000000000002" y="246" text-anchor="middle" style="font-family:'Liberation Sans', sans-serif;font-size:14px">10<tspan dy="-6.2" style="font-size:9.6px">–1</tspan></text>
<text x="269.0" y="244.3" text-anchor="middle" style="font-family:'Liberation Sans', sans-serif;font-size:14px">1</text>
<text x="369.40000000000003" y="244.3" text-anchor="middle" style="font-family:'Liberation Sans', sans-serif;font-size:14px">10</text>
<text x="134.5" y="264.2" style="font-family:'Liberation Sans', sans-serif;font-size:14.5px">Ramsey dark time <tspan style="font-style:italic">T</tspan><tspan dy="4.3" style="font-size:10.5px">R</tspan><tspan dy="-4.3"> (s)</tspan></text>
<text transform="translate(15,154) rotate(-90)" style="font-family:'Liberation Sans', sans-serif;font-size:14px"><tspan style="font-style:italic">σ</tspan><tspan dy="3.5" style="font-size:10px;font-style:italic">y</tspan><tspan dy="-3.5"> (τ = 1 s)</tspan></text>
<text x="99.6" y="184.4" style="font-family:'Liberation Sans', sans-serif;font-size:10px;fill:#222"><tspan style="font-style:italic">σ</tspan><tspan dy="4.5" style="font-size:9px">min</tspan></text>
<rect x="143.8" y="21.5" width="223.4" height="46.9" rx="2" fill="#fff" fill-opacity="0.85" stroke="#222" stroke-width="1"/>
<polygon points="326.70,27.80 327.64,30.31 330.31,30.43 328.22,32.09 328.93,34.67 326.70,33.20 324.47,34.67 325.18,32.09 323.09,30.43 325.76,30.31" fill="#e6e6f8" stroke="#e6e6f8" stroke-width="0.3" stroke-linejoin="miter" opacity="1"/>
<line x1="146.5" y1="28.7" x2="167.5" y2="28.7" stroke="#000" stroke-width="2.6" stroke-dasharray="9,5"/>
<line x1="146.5" y1="43.3" x2="167.5" y2="43.3" stroke="#0000ff" stroke-width="2.6" stroke-dasharray="9,5"/>
<line x1="146.5" y1="57.8" x2="167.5" y2="57.8" stroke="#ff0000" stroke-width="2.6" stroke-dasharray="9,5"/>
<text x="173.1" y="31.2" style="font-family:'Liberation Sans', sans-serif;font-size:11.4px"><tspan style="font-style:italic">σ</tspan><tspan dy="4.3" style="font-size:8.6px">Dick</tspan><tspan dy="-4.3"></tspan></text>
<text x="173.1" y="45.8" style="font-family:'Liberation Sans', sans-serif;font-size:11.4px"><tspan style="font-style:italic">σ</tspan><tspan dy="4.3" style="font-size:8.6px">QPN</tspan><tspan dy="-4.3"> 10 atoms</tspan></text>
<text x="173.1" y="61.599999999999994" style="font-family:'Liberation Sans', sans-serif;font-size:11.4px"><tspan style="font-style:italic">σ</tspan><tspan dy="4.3" style="font-size:8.6px">QPN</tspan><tspan dy="-4.3"> 2000 atoms</tspan></text>
<line x1="263" y1="28.7" x2="283.5" y2="28.7" stroke="#33cc33" stroke-width="2.6" stroke-dasharray="9,5"/>
<line x1="263" y1="43.3" x2="283.5" y2="43.3" stroke="#00bfff" stroke-width="3"/>
<line x1="263" y1="57.8" x2="283.5" y2="57.8" stroke="#ff0000" stroke-width="2.6"/>
<text x="288.4" y="31.8" style="font-family:'Liberation Sans', sans-serif;font-size:11.4px"><tspan style="font-style:italic">σ</tspan><tspan dy="4.3" style="font-size:8.6px">CTL</tspan><tspan dy="-4.3"></tspan></text>
<text x="288.4" y="46.599999999999994" style="font-family:'Liberation Sans', sans-serif;font-size:11.4px"><tspan style="font-style:italic">σ</tspan><tspan dy="4.3" style="font-size:8.6px;font-style:italic">y</tspan><tspan dy="-4.3"> 10 atoms</tspan></text>
<text x="288.4" y="61.8" style="font-family:'Liberation Sans', sans-serif;font-size:11.4px"><tspan style="font-style:italic">σ</tspan><tspan dy="4.3" style="font-size:8.6px;font-style:italic">y</tspan><tspan dy="-4.3">2000 atoms</tspan></text>
<rect x="276.4" y="76.8" width="83.1" height="21.5" rx="3" fill="#f5deb3" stroke="#222" stroke-width="1.1"/>
<text x="288.3" y="91.2" style="font-family:'Liberation Sans', sans-serif;font-size:14.2px"><tspan style="font-style:italic;font-size:15px">T</tspan><tspan dy="3.7" style="font-size:10.5px">D</tspan><tspan dy="-3.7"> = 0.5 s</tspan></text>
<rect x="313" y="106.1" width="28.7" height="18.6" rx="3" fill="#f5deb3" stroke="#222" stroke-width="1.1"/>
<text x="321" y="121.3" style="font-family:'Liberation Sans', sans-serif;font-size:13.5px">cL</text>
<text x="402.5" y="14.5" style="font-family:'Liberation Sans', sans-serif;font-size:20px;font-weight:bold">b</text>
<line x1="556.50" y1="18.4" x2="556.50" y2="217.4" stroke="#d4d4d4" stroke-width="1"/>
<line x1="644.80" y1="18.4" x2="644.80" y2="217.4" stroke="#d4d4d4" stroke-width="1"/>
<line x1="468.2" y1="45.30" x2="733.0999999999999" y2="45.30" stroke="#d4d4d4" stroke-width="1"/>
<line x1="468.2" y1="77.65" x2="733.0999999999999" y2="77.65" stroke="#d4d4d4" stroke-width="1"/>
<line x1="468.2" y1="110.00" x2="733.0999999999999" y2="110.00" stroke="#d4d4d4" stroke-width="1"/>
<line x1="468.2" y1="142.35" x2="733.0999999999999" y2="142.35" stroke="#d4d4d4" stroke-width="1"/>
<line x1="468.2" y1="174.70" x2="733.0999999999999" y2="174.70" stroke="#d4d4d4" stroke-width="1"/>
<line x1="468.2" y1="207.05" x2="733.0999999999999" y2="207.05" stroke="#d4d4d4" stroke-width="1"/>
<path d="M620.7,136 H732.4 V211.7 H595 V143 H620.7 Z" fill="#fff"/>
<defs><clipPath id="cb"><rect x="468.2" y="18.4" width="264.8999999999999" height="199.0"/></clipPath></defs>
<g clip-path="url(#cb)">
<path d="M468.20,165.00 L470.41,164.69 L472.61,164.39 L474.82,164.08 L477.03,163.77 L479.24,163.45 L481.44,163.14 L483.65,162.82 L485.86,162.51 L488.07,162.19 L490.27,161.86 L492.48,161.54 L494.69,161.22 L496.90,160.89 L499.11,160.56 L501.31,160.23 L503.52,159.90 L505.73,159.56 L507.94,159.22 L510.14,158.88 L512.35,158.54 L514.56,158.20 L516.76,157.86 L518.97,157.51 L521.18,157.16 L523.39,156.81 L525.60,156.46 L527.80,156.10 L530.01,155.75 L532.22,155.39 L534.42,155.03 L536.63,154.66 L538.84,154.30 L541.05,153.93 L543.25,153.56 L545.46,153.19 L547.67,152.82 L549.88,152.44 L552.09,152.06 L554.29,151.68 L556.50,151.30 L558.71,150.92 L560.91,150.53 L563.12,150.14 L565.33,149.75 L567.54,149.36 L569.75,148.96 L571.95,148.56 L574.16,148.16 L576.37,147.76 L578.58,147.36 L580.78,146.95 L582.99,146.54 L585.20,146.13 L587.40,145.71 L589.61,145.30 L591.82,144.88 L594.03,144.46 L596.24,144.03 L598.44,143.61 L600.65,143.18 L602.86,142.75 L605.07,142.32 L607.27,141.88 L609.48,141.44 L611.69,141.00 L613.89,140.56 L616.10,140.12 L618.31,139.67 L620.52,139.22 L622.73,138.77 L624.93,138.31 L627.14,137.85 L629.35,137.39 L631.55,136.93 L633.76,136.47 L635.97,136.00 L638.18,135.53 L640.38,135.05 L642.59,134.58 L644.80,134.10 L647.01,133.62 L649.21,133.14 L651.42,132.65 L653.63,132.16 L655.84,131.67 L658.04,131.17 L660.25,130.68 L662.46,130.18 L664.67,129.68 L666.88,129.17 L669.08,128.66 L671.29,128.15 L673.50,127.64 L675.70,127.12 L677.91,126.60 L680.12,126.08 L682.33,125.56 L684.53,125.03 L686.74,124.50 L688.95,123.97 L691.16,123.43 L693.37,122.89 L695.57,122.35 L697.78,121.81 L699.99,121.26 L702.19,120.71 L704.40,120.16 L706.61,119.60 L708.82,119.04 L711.02,118.48 L713.23,117.92 L715.44,117.35 L717.65,116.78 L719.86,116.21 L722.06,115.63 L724.27,115.05 L726.48,114.47 L728.68,113.88 L730.89,113.29 L733.10,112.70" fill="none" stroke="#008000" stroke-width="2.6" stroke-dasharray="4.4,2.3"/>
<path d="M468.20,142.65 L470.41,142.32 L472.61,141.99 L474.82,141.66 L477.03,141.33 L479.24,141.00 L481.44,140.67 L483.65,140.33 L485.86,140.00 L488.07,139.66 L490.27,139.32 L492.48,138.99 L494.69,138.65 L496.90,138.31 L499.11,137.96 L501.31,137.62 L503.52,137.28 L505.73,136.93 L507.94,136.58 L510.14,136.23 L512.35,135.88 L514.56,135.53 L516.76,135.18 L518.97,134.83 L521.18,134.47 L523.39,134.12 L525.60,133.76 L527.80,133.40 L530.01,133.04 L532.22,132.68 L534.42,132.31 L536.63,131.95 L538.84,131.58 L541.05,131.22 L543.25,130.85 L545.46,130.48 L547.67,130.10 L549.88,129.73 L552.09,129.36 L554.29,128.98 L556.50,128.60 L558.71,128.22 L560.91,127.84 L563.12,127.46 L565.33,127.07 L567.54,126.68 L569.75,126.30 L571.95,125.91 L574.16,125.51 L576.37,125.12 L578.58,124.73 L580.78,124.33 L582.99,123.93 L585.20,123.53 L587.40,123.13 L589.61,122.72 L591.82,122.32 L594.03,121.91 L596.24,121.50 L598.44,121.09 L600.65,120.68 L602.86,120.26 L605.07,119.85 L607.27,119.43 L609.48,119.01 L611.69,118.58 L613.89,118.16 L616.10,117.73 L618.31,117.30 L620.52,116.87 L622.73,116.44 L624.93,116.01 L627.14,115.57 L629.35,115.13 L631.55,114.69 L633.76,114.25 L635.97,113.80 L638.18,113.35 L640.38,112.91 L642.59,112.45 L644.80,112.00 L647.01,111.54 L649.21,111.09 L651.42,110.63 L653.63,110.16 L655.84,109.70 L658.04,109.23 L660.25,108.76 L662.46,108.29 L664.67,107.82 L666.88,107.34 L669.08,106.86 L671.29,106.38 L673.50,105.90 L675.70,105.41 L677.91,104.92 L680.12,104.43 L682.33,103.94 L684.53,103.44 L686.74,102.95 L688.95,102.45 L691.16,101.94 L693.37,101.44 L695.57,100.93 L697.78,100.42 L699.99,99.91 L702.19,99.39 L704.40,98.87 L706.61,98.35 L708.82,97.83 L711.02,97.31 L713.23,96.78 L715.44,96.25 L717.65,95.71 L719.86,95.18 L722.06,94.64 L724.27,94.09 L726.48,93.55 L728.68,93.00 L730.89,92.45 L733.10,91.90" fill="none" stroke="#0000ff" stroke-width="2.6" stroke-dasharray="14,2.5,3,2.5"/>
<path d="M468.20,113.00 L470.41,112.70 L472.61,112.40 L474.82,112.10 L477.03,111.79 L479.24,111.49 L481.44,111.18 L483.65,110.87 L485.86,110.56 L488.07,110.24 L490.27,109.93 L492.48,109.61 L494.69,109.29 L496.90,108.97 L499.11,108.65 L501.31,108.33 L503.52,108.00 L505.73,107.67 L507.94,107.34 L510.14,107.01 L512.35,106.68 L514.56,106.34 L516.76,106.00 L518.97,105.66 L521.18,105.32 L523.39,104.98 L525.60,104.63 L527.80,104.29 L530.01,103.94 L532.22,103.59 L534.42,103.23 L536.63,102.88 L538.84,102.52 L541.05,102.16 L543.25,101.80 L545.46,101.44 L547.67,101.08 L549.88,100.71 L552.09,100.34 L554.29,99.97 L556.50,99.60 L558.71,99.23 L560.91,98.85 L563.12,98.47 L565.33,98.09 L567.54,97.71 L569.75,97.33 L571.95,96.94 L574.16,96.55 L576.37,96.16 L578.58,95.77 L580.78,95.38 L582.99,94.98 L585.20,94.59 L587.40,94.19 L589.61,93.79 L591.82,93.38 L594.03,92.98 L596.24,92.57 L598.44,92.16 L600.65,91.75 L602.86,91.34 L605.07,90.92 L607.27,90.50 L609.48,90.08 L611.69,89.66 L613.89,89.24 L616.10,88.81 L618.31,88.39 L620.52,87.96 L622.73,87.53 L624.93,87.09 L627.14,86.66 L629.35,86.22 L631.55,85.78 L633.76,85.34 L635.97,84.90 L638.18,84.45 L640.38,84.00 L642.59,83.55 L644.80,83.10 L647.01,82.65 L649.21,82.19 L651.42,81.73 L653.63,81.27 L655.84,80.81 L658.04,80.35 L660.25,79.88 L662.46,79.41 L664.67,78.94 L666.88,78.47 L669.08,77.99 L671.29,77.52 L673.50,77.04 L675.70,76.56 L677.91,76.07 L680.12,75.59 L682.33,75.10 L684.53,74.61 L686.74,74.12 L688.95,73.62 L691.16,73.13 L693.37,72.63 L695.57,72.13 L697.78,71.63 L699.99,71.12 L702.19,70.62 L704.40,70.11 L706.61,69.60 L708.82,69.09 L711.02,68.57 L713.23,68.05 L715.44,67.53 L717.65,67.01 L719.86,66.49 L722.06,65.96 L724.27,65.43 L726.48,64.90 L728.68,64.37 L730.89,63.84 L733.10,63.30" fill="none" stroke="#000" stroke-width="3"/>
<path d="M468.20,99.50 L470.41,99.20 L472.61,98.91 L474.82,98.61 L477.03,98.30 L479.24,98.00 L481.44,97.69 L483.65,97.38 L485.86,97.07 L488.07,96.76 L490.27,96.44 L492.48,96.13 L494.69,95.81 L496.90,95.48 L499.11,95.16 L501.31,94.83 L503.52,94.50 L505.73,94.17 L507.94,93.84 L510.14,93.51 L512.35,93.17 L514.56,92.83 L516.76,92.49 L518.97,92.14 L521.18,91.80 L523.39,91.45 L525.60,91.10 L527.80,90.75 L530.01,90.40 L532.22,90.04 L534.42,89.68 L536.63,89.32 L538.84,88.96 L541.05,88.60 L543.25,88.23 L545.46,87.87 L547.67,87.50 L549.88,87.13 L552.09,86.75 L554.29,86.38 L556.50,86.00 L558.71,85.62 L560.91,85.24 L563.12,84.86 L565.33,84.47 L567.54,84.09 L569.75,83.70 L571.95,83.31 L574.16,82.92 L576.37,82.52 L578.58,82.13 L580.78,81.73 L582.99,81.33 L585.20,80.93 L587.40,80.53 L589.61,80.13 L591.82,79.72 L594.03,79.31 L596.24,78.90 L598.44,78.49 L600.65,78.08 L602.86,77.67 L605.07,77.25 L607.27,76.83 L609.48,76.42 L611.69,75.99 L613.89,75.57 L616.10,75.15 L618.31,74.72 L620.52,74.30 L622.73,73.87 L624.93,73.44 L627.14,73.01 L629.35,72.57 L631.55,72.14 L633.76,71.70 L635.97,71.27 L638.18,70.83 L640.38,70.39 L642.59,69.94 L644.80,69.50 L647.01,69.06 L649.21,68.61 L651.42,68.16 L653.63,67.71 L655.84,67.26 L658.04,66.81 L660.25,66.36 L662.46,65.90 L664.67,65.45 L666.88,64.99 L669.08,64.53 L671.29,64.07 L673.50,63.61 L675.70,63.15 L677.91,62.68 L680.12,62.22 L682.33,61.75 L684.53,61.28 L686.74,60.81 L688.95,60.34 L691.16,59.87 L693.37,59.40 L695.57,58.93 L697.78,58.45 L699.99,57.98 L702.19,57.50 L704.40,57.02 L706.61,56.54 L708.82,56.06 L711.02,55.58 L713.23,55.09 L715.44,54.61 L717.65,54.13 L719.86,53.64 L722.06,53.15 L724.27,52.66 L726.48,52.17 L728.68,51.68 L730.89,51.19 L733.10,50.70" fill="none" stroke="#ff0000" stroke-width="2.6" stroke-dasharray="8.9,2.2"/>
</g>
<path d="M468.5,18.5 H732.8 V217.5 H468.5 Z" fill="none" stroke="#222" stroke-width="0.9"/>
<path d="M468.2,216.79 h-2 M468.2,214.23 h-2 M468.2,212.06 h-2 M468.2,210.19 h-2 M468.2,208.53 h-2 M468.2,207.05 h-3 M468.2,197.31 h-2 M468.2,191.62 h-2 M468.2,187.57 h-2 M468.2,184.44 h-2 M468.2,181.88 h-2 M468.2,179.71 h-2 M468.2,177.84 h-2 M468.2,176.18 h-2 M468.2,174.70 h-3 M468.2,164.96 h-2 M468.2,159.27 h-2 M468.2,155.22 h-2 M468.2,152.09 h-2 M468.2,149.53 h-2 M468.2,147.36 h-2 M468.2,145.49 h-2 M468.2,143.83 h-2 M468.2,142.35 h-3 M468.2,132.61 h-2 M468.2,126.92 h-2 M468.2,122.87 h-2 M468.2,119.74 h-2 M468.2,117.18 h-2 M468.2,115.01 h-2 M468.2,113.14 h-2 M468.2,111.48 h-2 M468.2,110.00 h-3 M468.2,100.26 h-2 M468.2,94.57 h-2 M468.2,90.52 h-2 M468.2,87.39 h-2 M468.2,84.83 h-2 M468.2,82.66 h-2 M468.2,80.79 h-2 M468.2,79.13 h-2 M468.2,77.65 h-3 M468.2,67.91 h-2 M468.2,62.22 h-2 M468.2,58.17 h-2 M468.2,55.04 h-2 M468.2,52.48 h-2 M468.2,50.31 h-2 M468.2,48.44 h-2 M468.2,46.78 h-2 M468.2,45.30 h-3 M468.2,35.56 h-2 M468.2,29.87 h-2 M468.2,25.82 h-2 M468.2,22.69 h-2 M468.2,20.13 h-2 M468.20,217.4 v3 M494.78,217.4 v2 M510.33,217.4 v2 M521.36,217.4 v2 M529.92,217.4 v2 M536.91,217.4 v2 M542.82,217.4 v2 M547.94,217.4 v2 M552.46,217.4 v2 M556.50,217.4 v3 M583.08,217.4 v2 M598.63,217.4 v2 M609.66,217.4 v2 M618.22,217.4 v2 M625.21,217.4 v2 M631.12,217.4 v2 M636.24,217.4 v2 M640.76,217.4 v2 M644.80,217.4 v3 M671.38,217.4 v2 M686.93,217.4 v2 M697.96,217.4 v2 M706.52,217.4 v2 M713.51,217.4 v2 M719.42,217.4 v2 M724.54,217.4 v2 M729.06,217.4 v2 M733.10,217.4 v3 M733.0999999999999,216.79 h-2 M733.0999999999999,214.23 h-2 M733.0999999999999,212.06 h-2 M733.0999999999999,210.19 h-2 M733.0999999999999,208.53 h-2 M733.0999999999999,207.05 h-3 M733.0999999999999,197.31 h-2 M733.0999999999999,191.62 h-2 M733.0999999999999,187.57 h-2 M733.0999999999999,184.44 h-2 M733.0999999999999,181.88 h-2 M733.0999999999999,179.71 h-2 M733.0999999999999,177.84 h-2 M733.0999999999999,176.18 h-2 M733.0999999999999,174.70 h-3 M733.0999999999999,164.96 h-2 M733.0999999999999,159.27 h-2 M733.0999999999999,155.22 h-2 M733.0999999999999,152.09 h-2 M733.0999999999999,149.53 h-2 M733.0999999999999,147.36 h-2 M733.0999999999999,145.49 h-2 M733.0999999999999,143.83 h-2 M733.0999999999999,142.35 h-3 M733.0999999999999,132.61 h-2 M733.0999999999999,126.92 h-2 M733.0999999999999,122.87 h-2 M733.0999999999999,119.74 h-2 M733.0999999999999,117.18 h-2 M733.0999999999999,115.01 h-2 M733.0999999999999,113.14 h-2 M733.0999999999999,111.48 h-2 M733.0999999999999,110.00 h-3 M733.0999999999999,100.26 h-2 M733.0999999999999,94.57 h-2 M733.0999999999999,90.52 h-2 M733.0999999999999,87.39 h-2 M733.0999999999999,84.83 h-2 M733.0999999999999,82.66 h-2 M733.0999999999999,80.79 h-2 M733.0999999999999,79.13 h-2 M733.0999999999999,77.65 h-3 M733.0999999999999,67.91 h-2 M733.0999999999999,62.22 h-2 M733.0999999999999,58.17 h-2 M733.0999999999999,55.04 h-2 M733.0999999999999,52.48 h-2 M733.0999999999999,50.31 h-2 M733.0999999999999,48.44 h-2 M733.0999999999999,46.78 h-2 M733.0999999999999,45.30 h-3 M733.0999999999999,35.56 h-2 M733.0999999999999,29.87 h-2 M733.0999999999999,25.82 h-2 M733.0999999999999,22.69 h-2 M733.0999999999999,20.13 h-2" stroke="#222" stroke-width="0.9" fill="none"/>
<text x="461" y="50.3" text-anchor="end" style="font-family:'Liberation Sans', sans-serif;font-size:14px">10<tspan dy="-6.2" style="font-size:9.6px">–16</tspan></text>
<text x="461" y="82.65" text-anchor="end" style="font-family:'Liberation Sans', sans-serif;font-size:14px">10<tspan dy="-6.2" style="font-size:9.6px">–17</tspan></text>
<text x="461" y="115.0" text-anchor="end" style="font-family:'Liberation Sans', sans-serif;font-size:14px">10<tspan dy="-6.2" style="font-size:9.6px">–18</tspan></text>
<text x="461" y="147.35000000000002" text-anchor="end" style="font-family:'Liberation Sans', sans-serif;font-size:14px">10<tspan dy="-6.2" style="font-size:9.6px">–19</tspan></text>
<text x="461" y="179.7" text-anchor="end" style="font-family:'Liberation Sans', sans-serif;font-size:14px">10<tspan dy="-6.2" style="font-size:9.6px">–20</tspan></text>
<text x="461" y="212.05" text-anchor="end" style="font-family:'Liberation Sans', sans-serif;font-size:14px">10<tspan dy="-6.2" style="font-size:9.6px">–21</tspan></text>
<text x="468.2" y="239.5" text-anchor="middle" style="font-family:'Liberation Sans', sans-serif;font-size:14px">10<tspan dy="-6.2" style="font-size:9.6px">–3</tspan></text>
<text x="556.5" y="239.5" text-anchor="middle" style="font-family:'Liberation Sans', sans-serif;font-size:14px">10<tspan dy="-6.2" style="font-size:9.6px">–2</tspan></text>
<text x="644.8" y="239.5" text-anchor="middle" style="font-family:'Liberation Sans', sans-serif;font-size:14px">10<tspan dy="-6.2" style="font-size:9.6px">–1</tspan></text>
<text x="733.0999999999999" y="239.5" text-anchor="middle" style="font-family:'Liberation Sans', sans-serif;font-size:14px">10<tspan dy="-6.2" style="font-size:9.6px">0</tspan></text>
<text x="582.8" y="260.7" style="font-family:'Liberation Sans', sans-serif;font-size:14.5px"><tspan style="font-style:italic">T</tspan><tspan dy="4.3" style="font-size:10.5px">D</tspan><tspan dy="-4.3"> (s)</tspan></text>
<text transform="translate(415,154) rotate(-90)" style="font-family:'Liberation Sans', sans-serif;font-size:14px"><tspan style="font-style:italic">σ</tspan><tspan dy="3.5" style="font-size:10px">min</tspan><tspan dy="-3.5"> (τ = 1 s)</tspan></text>
<rect x="481.5" y="24.3" width="127.5" height="35.4" rx="2" fill="#fff" fill-opacity="0.85" stroke="#cccccc" stroke-width="1"/>
<line x1="484.2" y1="32.6" x2="504" y2="32.6" stroke="#ff0000" stroke-width="2.3" stroke-dasharray="8.9,2.2"/>
<line x1="484.2" y1="51.7" x2="504" y2="51.7" stroke="#000" stroke-width="3"/>
<line x1="551.8" y1="32.6" x2="571.6" y2="32.6" stroke="#0000ff" stroke-width="2.3" stroke-dasharray="13.5,2.8,2.5,2.8"/>
<line x1="551.8" y1="51.7" x2="571.6" y2="51.7" stroke="#008000" stroke-width="2.3" stroke-dasharray="3.9,2.2"/>
<text x="512.4" y="37.1" style="font-family:'Liberation Sans', sans-serif;font-size:12px">tL</text>
<text x="512.4" y="56.2" style="font-family:'Liberation Sans', sans-serif;font-size:12px">cL</text>
<text x="577.7" y="37.1" style="font-family:'Liberation Sans', sans-serif;font-size:12px">pL1</text>
<text x="577.7" y="56.2" style="font-family:'Liberation Sans', sans-serif;font-size:12px">pL2</text>
<rect x="646.0" y="142.0" width="77.20000000000005" height="46.80000000000001" fill="#fff"/>
<line x1="669.90" y1="142.0" x2="669.90" y2="188.8" stroke="#dadada" stroke-width="0.8"/>
<line x1="693.80" y1="142.0" x2="693.80" y2="188.8" stroke="#dadada" stroke-width="0.8"/>
<line x1="717.70" y1="142.0" x2="717.70" y2="188.8" stroke="#dadada" stroke-width="0.8"/>
<line x1="646.0" y1="155.10" x2="723.2" y2="155.10" stroke="#dadada" stroke-width="0.8"/>
<line x1="646.0" y1="172.20" x2="723.2" y2="172.20" stroke="#dadada" stroke-width="0.8"/>
<g clip-path="url(#ci)"><defs><clipPath id="ci"><rect x="646.0" y="142.0" width="77.20000000000005" height="46.80000000000001"/></clipPath></defs>
<path d="M646.00,182.00 L646.77,181.78 L647.55,181.55 L648.32,181.32 L649.10,181.07 L649.87,180.82 L650.65,180.56 L651.42,180.29 L652.19,180.01 L652.97,179.72 L653.74,179.43 L654.52,179.13 L655.29,178.82 L656.07,178.51 L656.84,178.19 L657.62,177.87 L658.39,177.53 L659.16,177.20 L659.94,176.86 L660.71,176.51 L661.49,176.15 L662.26,175.80 L663.04,175.44 L663.81,175.07 L664.58,174.70 L665.36,174.33 L666.13,173.95 L666.91,173.57 L667.68,173.19 L668.46,172.80 L669.23,172.41 L670.01,172.02 L670.78,171.63 L671.55,171.23 L672.33,170.83 L673.10,170.44 L673.88,170.04 L674.65,169.64 L675.43,169.24 L676.20,168.83 L676.97,168.43 L677.75,168.03 L678.52,167.63 L679.30,167.23 L680.07,166.83 L680.85,166.43 L681.62,166.03 L682.39,165.64 L683.17,165.24 L683.94,164.85 L684.72,164.46 L685.49,164.07 L686.27,163.69 L687.04,163.30 L687.82,162.93 L688.59,162.55 L689.36,162.18 L690.14,161.81 L690.91,161.44 L691.69,161.08 L692.46,160.73 L693.24,160.38 L694.01,160.03 L694.78,159.69 L695.56,159.36 L696.33,159.03 L697.11,158.70 L697.88,158.36 L698.66,158.02 L699.43,157.68 L700.21,157.33 L700.98,156.97 L701.75,156.62 L702.53,156.25 L703.30,155.88 L704.08,155.51 L704.85,155.13 L705.63,154.75 L706.40,154.36 L707.17,153.96 L707.95,153.56 L708.72,153.16 L709.50,152.75 L710.27,152.33 L711.05,151.90 L711.82,151.48 L712.59,151.04 L713.37,150.60 L714.14,150.15 L714.92,149.70 L715.69,149.24 L716.47,148.77 L717.24,148.30 L718.02,147.82 L718.79,147.33 L719.56,146.84 L720.34,146.34 L721.11,145.83 L721.89,145.32 L722.66,144.80 L723.44,144.27" fill="none" stroke="#008000" stroke-width="1.1"/>
<path d="M646.00,180.50 L646.77,180.28 L647.55,180.06 L648.32,179.83 L649.10,179.59 L649.87,179.34 L650.65,179.09 L651.42,178.83 L652.19,178.57 L652.97,178.30 L653.74,178.03 L654.52,177.75 L655.29,177.46 L656.07,177.17 L656.84,176.87 L657.62,176.57 L658.39,176.26 L659.16,175.95 L659.94,175.64 L660.71,175.32 L661.49,175.00 L662.26,174.67 L663.04,174.34 L663.81,174.00 L664.58,173.66 L665.36,173.32 L666.13,172.98 L666.91,172.63 L667.68,172.28 L668.46,171.93 L669.23,171.58 L670.01,171.22 L670.78,170.86 L671.55,170.50 L672.33,170.14 L673.10,169.78 L673.88,169.41 L674.65,169.05 L675.43,168.68 L676.20,168.31 L676.97,167.94 L677.75,167.57 L678.52,167.20 L679.30,166.83 L680.07,166.47 L680.85,166.10 L681.62,165.73 L682.39,165.36 L683.17,164.99 L683.94,164.63 L684.72,164.26 L685.49,163.90 L686.27,163.53 L687.04,163.17 L687.82,162.81 L688.59,162.46 L689.36,162.10 L690.14,161.75 L690.91,161.40 L691.69,161.05 L692.46,160.70 L693.24,160.36 L694.01,160.02 L694.78,159.69 L695.56,159.36 L696.33,159.03 L697.11,158.70 L697.88,158.36 L698.66,158.02 L699.43,157.68 L700.21,157.33 L700.98,156.97 L701.75,156.62 L702.53,156.25 L703.30,155.88 L704.08,155.51 L704.85,155.13 L705.63,154.75 L706.40,154.36 L707.17,153.96 L707.95,153.56 L708.72,153.16 L709.50,152.75 L710.27,152.33 L711.05,151.90 L711.82,151.48 L712.59,151.04 L713.37,150.60 L714.14,150.15 L714.92,149.70 L715.69,149.24 L716.47,148.77 L717.24,148.30 L718.02,147.82 L718.79,147.33 L719.56,146.84 L720.34,146.34 L721.11,145.83 L721.89,145.32 L722.66,144.80 L723.44,144.27" fill="none" stroke="#0000ff" stroke-width="1.1"/>
<path d="M646.00,176.60 L646.77,176.39 L647.55,176.17 L648.32,175.95 L649.10,175.73 L649.87,175.51 L650.65,175.29 L651.42,175.06 L652.19,174.83 L652.97,174.61 L653.74,174.38 L654.52,174.14 L655.29,173.91 L656.07,173.68 L656.84,173.44 L657.62,173.20 L658.39,172.96 L659.16,172.72 L659.94,172.47 L660.71,172.23 L661.49,171.98 L662.26,171.73 L663.04,171.48 L663.81,171.23 L664.58,170.97 L665.36,170.72 L666.13,170.46 L666.91,170.20 L667.68,169.94 L668.46,169.67 L669.23,169.41 L670.01,169.14 L670.78,168.87 L671.55,168.60 L672.33,168.33 L673.10,168.06 L673.88,167.78 L674.65,167.51 L675.43,167.23 L676.20,166.95 L676.97,166.66 L677.75,166.38 L678.52,166.09 L679.30,165.81 L680.07,165.52 L680.85,165.23 L681.62,164.93 L682.39,164.64 L683.17,164.34 L683.94,164.04 L684.72,163.74 L685.49,163.44 L686.27,163.14 L687.04,162.83 L687.82,162.52 L688.59,162.22 L689.36,161.90 L690.14,161.59 L690.91,161.28 L691.69,160.96 L692.46,160.64 L693.24,160.32 L694.01,160.00 L694.78,159.68 L695.56,159.35 L696.33,159.03 L697.11,158.70 L697.88,158.36 L698.66,158.02 L699.43,157.68 L700.21,157.33 L700.98,156.97 L701.75,156.62 L702.53,156.25 L703.30,155.88 L704.08,155.51 L704.85,155.13 L705.63,154.75 L706.40,154.36 L707.17,153.96 L707.95,153.56 L708.72,153.16 L709.50,152.75 L710.27,152.33 L711.05,151.90 L711.82,151.48 L712.59,151.04 L713.37,150.60 L714.14,150.15 L714.92,149.70 L715.69,149.24 L716.47,148.77 L717.24,148.30 L718.02,147.82 L718.79,147.33 L719.56,146.84 L720.34,146.34 L721.11,145.83 L721.89,145.32 L722.66,144.80 L723.44,144.27" fill="none" stroke="#000" stroke-width="1.2"/>
<path d="M646.00,174.80 L646.77,174.59 L647.55,174.37 L648.32,174.16 L649.10,173.95 L649.87,173.74 L650.65,173.53 L651.42,173.32 L652.19,173.11 L652.97,172.90 L653.74,172.69 L654.52,172.48 L655.29,172.27 L656.07,172.06 L656.84,171.85 L657.62,171.64 L658.39,171.43 L659.16,171.22 L659.94,171.01 L660.71,170.80 L661.49,170.59 L662.26,170.38 L663.04,170.16 L663.81,169.95 L664.58,169.73 L665.36,169.51 L666.13,169.30 L666.91,169.08 L667.68,168.86 L668.46,168.63 L669.23,168.41 L670.01,168.18 L670.78,167.96 L671.55,167.73 L672.33,167.50 L673.10,167.27 L673.88,167.03 L674.65,166.80 L675.43,166.56 L676.20,166.32 L676.97,166.08 L677.75,165.83 L678.52,165.58 L679.30,165.33 L680.07,165.08 L680.85,164.82 L681.62,164.57 L682.39,164.30 L683.17,164.04 L683.94,163.77 L684.72,163.50 L685.49,163.23 L686.27,162.95 L687.04,162.67 L687.82,162.39 L688.59,162.10 L689.36,161.81 L690.14,161.52 L690.91,161.22 L691.69,160.92 L692.46,160.62 L693.24,160.31 L694.01,159.99 L694.78,159.67 L695.56,159.35 L696.33,159.03 L697.11,158.70 L697.88,158.36 L698.66,158.02 L699.43,157.68 L700.21,157.33 L700.98,156.97 L701.75,156.62 L702.53,156.25 L703.30,155.88 L704.08,155.51 L704.85,155.13 L705.63,154.75 L706.40,154.36 L707.17,153.96 L707.95,153.56 L708.72,153.16 L709.50,152.75 L710.27,152.33 L711.05,151.90 L711.82,151.48 L712.59,151.04 L713.37,150.60 L714.14,150.15 L714.92,149.70 L715.69,149.24 L716.47,148.77 L717.24,148.30 L718.02,147.82 L718.79,147.33 L719.56,146.84 L720.34,146.34 L721.11,145.83 L721.89,145.32 L722.66,144.80 L723.44,144.27" fill="none" stroke="#ff0000" stroke-width="1.3"/>
</g>
<rect x="646.0" y="142.0" width="77.20000000000005" height="46.80000000000001" fill="none" stroke="#b0b0b0" stroke-width="0.9"/>
<text x="646.5" y="200.1" text-anchor="middle" style="font-family:'Liberation Sans', sans-serif;font-size:8.2px">10<tspan dy="-3.6" style="font-size:6.3px">–3</tspan></text>
<text x="670.4" y="200.1" text-anchor="middle" style="font-family:'Liberation Sans', sans-serif;font-size:8.2px">10<tspan dy="-3.6" style="font-size:6.3px">–2</tspan></text>
<text x="694.3" y="200.1" text-anchor="middle" style="font-family:'Liberation Sans', sans-serif;font-size:8.2px">10<tspan dy="-3.6" style="font-size:6.3px">–1</tspan></text>
<text x="718.2" y="200.1" text-anchor="middle" style="font-family:'Liberation Sans', sans-serif;font-size:8.2px">10<tspan dy="-3.6" style="font-size:6.3px">0</tspan></text>
<text x="644.3" y="158.1" text-anchor="end" style="font-family:'Liberation Sans', sans-serif;font-size:8.2px">10<tspan dy="-3.6" style="font-size:6.3px">–16</tspan></text>
<text x="644.3" y="175.2" text-anchor="end" style="font-family:'Liberation Sans', sans-serif;font-size:8.2px">10<tspan dy="-3.6" style="font-size:6.3px">–17</tspan></text>
<text x="644.3" y="192.3" text-anchor="end" style="font-family:'Liberation Sans', sans-serif;font-size:8.2px">10<tspan dy="-3.6" style="font-size:6.3px">–18</tspan></text>
<text x="670.6" y="210.9" style="font-family:'Liberation Sans', sans-serif;font-size:9px"><tspan style="font-style:italic">T</tspan><tspan dy="3" style="font-size:7px">D</tspan><tspan dy="-3"> / Z</tspan></text>
<text transform="translate(622.5,181.5) rotate(-90)" style="font-family:'Liberation Sans', sans-serif;font-size:9.5px">√<tspan style="font-style:italic">Z</tspan><tspan style="font-style:italic;font-size:7px"> σ</tspan><tspan dy="1.5" style="font-size:5px">min</tspan></text>
</svg></body></html>
